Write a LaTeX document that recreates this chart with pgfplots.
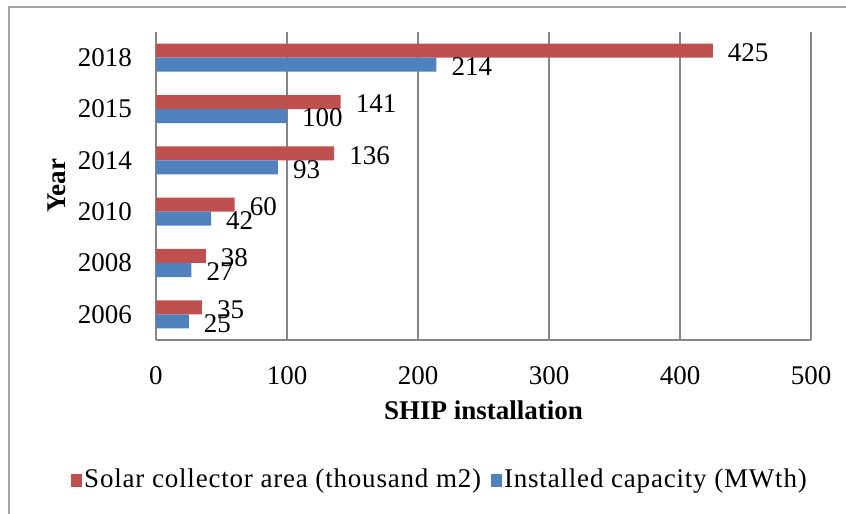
\documentclass[border=0pt]{standalone}
\usepackage{pgfplots}
\pgfplotsset{compat=1.18}
\usepackage{fontspec}
\setmainfont{Liberation Serif}
\newfontfamily\legendfamily{Liberation Serif}[LetterSpace=3]
\definecolor{barred}{HTML}{C0504D}
\definecolor{barblue}{HTML}{4F81BD}
\definecolor{gridgray}{HTML}{868686}
\definecolor{framegray}{HTML}{A6A6A6}
\newcommand\chartfont{\fontsize{27}{32}\selectfont}

\begin{document}
\chartfont
\begin{tikzpicture}
\useasboundingbox (0,0) rectangle (846pt,514pt);
% chart area frame
\draw[framegray, line width=1.5pt] (9pt,0) -- (9pt,507pt) -- (846pt,507pt);
\begin{axis}[
  at={(156pt,174pt)}, anchor=south west,
  scale only axis, width=655pt, height=308pt,
  xbar, bar width=14pt,
  xmin=0, xmax=500, ymin=-0.5, ymax=5.5,
  xtick={0,100,...,500},
  ytick={0,...,5},
  yticklabels={2006,2008,2010,2014,2015,2018},
  axis x line*=bottom, axis y line*=left,
  axis line style={gridgray, line width=1.2pt, -},
  xmajorgrids, grid style={gridgray, line width=1.2pt},
  major tick length=0pt,
  tick style={draw=none},
  /pgf/number format/assume math mode=true,
  every tick label/.append style={font=\chartfont},
  xticklabel style={anchor=north, inner sep=0pt, yshift=-26pt},
  yticklabel style={anchor=east, inner sep=0pt, xshift=-24pt},
  xlabel={\textbf{SHIP installation}},
  xlabel style={font=\chartfont, at={(axis description cs:0.5,0)}, anchor=center, yshift=-70pt},
  ylabel={\textbf{Year}},
  ylabel style={font=\chartfont, at={(axis description cs:0,0.5)}, anchor=center, yshift=99pt},
  point meta=x,
  nodes near coords,
  nodes near coords style={font=\chartfont, anchor=west, inner sep=0pt, xshift=15pt, yshift=-2pt, text=black},
  legend columns=2,
  legend style={draw=none, fill=none, font=\chartfont\legendfamily, at={(0.4336,-0.4545)}, anchor=center,
    nodes={inner sep=2pt},
    /tikz/every even column/.append style={column sep=8pt}},
  legend image code/.code={\fill[#1] (0pt,-7pt) rectangle (11pt,6pt);},
]
% Solar collector area (thousand m2)
\addplot[fill=barred, draw=none, bar shift=7pt]
  coordinates {(35,0) (38,1) (60,2) (136,3) (141,4) (425,5)};
% Installed capacity (MWth)
\addplot[fill=barblue, draw=none, bar shift=-7pt]
  coordinates {(25,0) (27,1) (42,2) (93,3) (100,4) (214,5)};
\legend{Solar collector area (thousand m2), Installed capacity (MWth)}
\end{axis}
\end{tikzpicture}
\end{document}
